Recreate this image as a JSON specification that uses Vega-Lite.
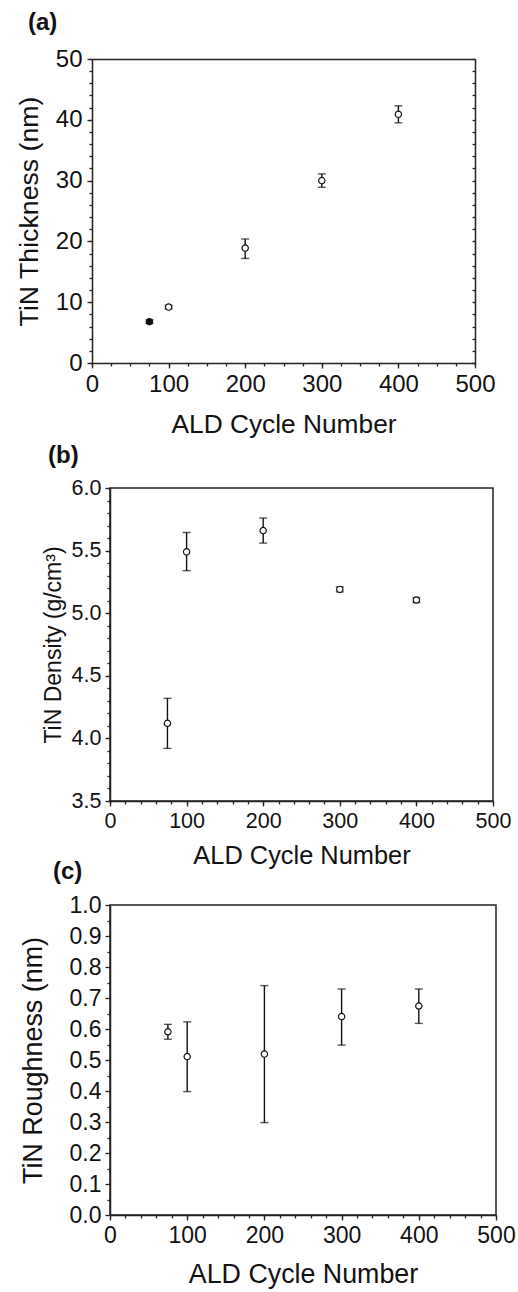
{
  "$schema": "https://vega.github.io/schema/vega-lite/v6.json",
  "padding": {"left": 16, "top": 11, "right": 5, "bottom": 2},
  "background": "white",
  "title": {"text": "(a)", "anchor": "start", "frame": "group", "dx": -82, "offset": 12},
  "spacing": 7,
  "datasets": {
    "thickness": [
      {"cycles": 75, "value": 6.8, "lo": 6.5, "hi": 7.1, "style": "filled"},
      {"cycles": 100, "value": 9.2, "lo": 8.9, "hi": 9.5, "style": "open"},
      {"cycles": 200, "value": 18.9, "lo": 17.2, "hi": 20.4, "style": "open"},
      {"cycles": 300, "value": 30.0, "lo": 28.9, "hi": 31.1, "style": "open"},
      {"cycles": 400, "value": 40.9, "lo": 39.5, "hi": 42.3, "style": "open"}
    ],
    "density": [
      {"cycles": 75, "value": 4.12, "lo": 3.92, "hi": 4.32},
      {"cycles": 100, "value": 5.49, "lo": 5.34, "hi": 5.645},
      {"cycles": 200, "value": 5.66, "lo": 5.56, "hi": 5.76},
      {"cycles": 300, "value": 5.19, "lo": 5.17, "hi": 5.21},
      {"cycles": 400, "value": 5.105, "lo": 5.085, "hi": 5.125}
    ],
    "roughness": [
      {"cycles": 75, "value": 0.591, "lo": 0.567, "hi": 0.615},
      {"cycles": 100, "value": 0.511, "lo": 0.398, "hi": 0.623},
      {"cycles": 200, "value": 0.519, "lo": 0.298, "hi": 0.74},
      {"cycles": 300, "value": 0.64, "lo": 0.548, "hi": 0.729},
      {"cycles": 400, "value": 0.674, "lo": 0.618, "hi": 0.729}
    ]
  },
  "vconcat": [
    {
      "width": 383,
      "height": 304,
      "view": {"stroke": null},
      "data": {"name": "thickness"},
      "title": {"text": "(b)", "orient": "bottom", "anchor": "start", "frame": "group", "dx": -62, "offset": 7},
      "resolve": {"axis": {"x": "independent", "y": "independent"}},
      "layer": [
        {
          "mark": {"type": "errorbar", "ticks": {"size": 8, "thickness": 1.4}, "thickness": 1.4, "color": "#111"},
          "encoding": {
            "x": {"field": "cycles", "type": "quantitative", "scale": {"domain": [0, 500], "range": [-18, 365], "nice": false, "zero": false},
              "axis": {"orient": "bottom", "values": [0, 100, 200, 300, 400, 500], "labelFontSize": 24, "tickSize": 5, "labelPadding": 4, "title": "ALD Cycle Number", "titleFontSize": 26.3, "titleY": 61, "titleBaseline": "middle"}},
            "y": {"field": "lo", "type": "quantitative", "scale": {"domain": [0, 50], "nice": false, "zero": false},
              "axis": {"orient": "left", "offset": 18, "values": [0, 10, 20, 30, 40, 50], "labelFontSize": 24, "tickSize": 5, "labelPadding": 5, "title": "TiN Thickness (nm)", "titleFontSize": 26.7, "titleX": -63, "titleY": 152, "titleAngle": -90, "titleAlign": "center", "titleBaseline": "middle"}},
            "y2": {"field": "hi"}
          }
        },
        {
          "mark": {"type": "point", "shape": "circle", "filled": true, "size": 40, "stroke": "#111", "strokeWidth": 1.2, "opacity": 1},
          "encoding": {
            "x": {"field": "cycles", "type": "quantitative",
              "axis": {"orient": "bottom", "values": [0, 25, 50, 75, 100, 125, 150, 175, 200, 225, 250, 275, 300, 325, 350, 375, 400, 425, 450, 475, 500], "labels": false, "domain": false, "tickSize": 3, "title": null}},
            "y": {"field": "value", "type": "quantitative",
              "axis": {"orient": "left", "offset": 18, "values": [0, 2, 4, 6, 8, 10, 12, 14, 16, 18, 20, 22, 24, 26, 28, 30, 32, 34, 36, 38, 40, 42, 44, 46, 48, 50], "labels": false, "domain": false, "tickSize": 3, "title": null}},
            "fill": {"field": "style", "type": "nominal", "scale": {"domain": ["filled", "open"], "range": ["#111", "white"]}, "legend": null}
          }
        },
        {
          "mark": {"type": "point", "opacity": 0},
          "encoding": {
            "x": {"field": "cycles", "type": "quantitative",
              "axis": {"orient": "top", "labels": false, "ticks": false, "domain": true, "title": null}},
            "y": {"field": "value", "type": "quantitative",
              "axis": {"orient": "right", "offset": -18, "values": [0, 2, 4, 6, 8, 10, 12, 14, 16, 18, 20, 22, 24, 26, 28, 30, 32, 34, 36, 38, 40, 42, 44, 46, 48, 50], "labels": false, "domain": true, "tickSize": -3, "title": null}}
          }
        }
      ]
    },
    {
      "width": 383,
      "height": 313,
      "data": {"name": "density"},
      "title": {"text": "(c)", "orient": "bottom", "anchor": "start", "frame": "group", "dx": -57, "offset": -8},
      "resolve": {"axis": {"x": "independent", "y": "independent"}},
      "layer": [
        {
          "mark": {"type": "errorbar", "ticks": {"size": 8, "thickness": 1.4}, "thickness": 1.4, "color": "#111"},
          "encoding": {
            "x": {"field": "cycles", "type": "quantitative", "scale": {"domain": [0, 500], "nice": false, "zero": false},
              "axis": {"orient": "bottom", "values": [0, 100, 200, 300, 400, 500], "labelFontSize": 21.5, "tickSize": 5, "labelPadding": 4, "title": "ALD Cycle Number", "titleFontSize": 25.4, "titleY": 54, "titleBaseline": "middle"}},
            "y": {"field": "lo", "type": "quantitative", "scale": {"domain": [3.5, 6.0], "nice": false, "zero": false},
              "axis": {"orient": "left", "values": [3.5, 4.0, 4.5, 5.0, 5.5, 6.0], "format": ".1f", "labelFontSize": 21.5, "tickSize": 5, "labelPadding": 4, "title": "TiN Density (g/cm³)", "titleFontSize": 23, "titleX": -57, "titleY": 156.5, "titleAngle": -90, "titleAlign": "center", "titleBaseline": "middle"}},
            "y2": {"field": "hi"}
          }
        },
        {
          "mark": {"type": "point", "shape": "circle", "filled": true, "fill": "white", "size": 40, "stroke": "#111", "strokeWidth": 1.2, "opacity": 1},
          "encoding": {
            "x": {"field": "cycles", "type": "quantitative",
              "axis": {"orient": "bottom", "values": [0, 20, 40, 60, 80, 100, 120, 140, 160, 180, 200, 220, 240, 260, 280, 300, 320, 340, 360, 380, 400, 420, 440, 460, 480, 500], "labels": false, "domain": false, "tickSize": 3, "title": null}},
            "y": {"field": "value", "type": "quantitative",
              "axis": {"orient": "left", "values": [3.5, 3.6, 3.7, 3.8, 3.9, 4.0, 4.1, 4.2, 4.3, 4.4, 4.5, 4.6, 4.7, 4.8, 4.9, 5.0, 5.1, 5.2, 5.3, 5.4, 5.5, 5.6, 5.7, 5.8, 5.9, 6.0], "labels": false, "domain": false, "tickSize": 3, "title": null}}
          }
        }
      ]
    },
    {
      "width": 386,
      "height": 310,
      "data": {"name": "roughness"},
      "resolve": {"axis": {"x": "independent", "y": "independent"}},
      "layer": [
        {
          "mark": {"type": "errorbar", "ticks": {"size": 8, "thickness": 1.4}, "thickness": 1.4, "color": "#111"},
          "encoding": {
            "x": {"field": "cycles", "type": "quantitative", "scale": {"domain": [0, 500], "nice": false, "zero": false},
              "axis": {"orient": "bottom", "values": [0, 100, 200, 300, 400, 500], "labelFontSize": 23, "tickSize": 5, "labelPadding": 4, "title": "ALD Cycle Number", "titleFontSize": 26.8, "titleY": 59, "titleBaseline": "middle"}},
            "y": {"field": "lo", "type": "quantitative", "scale": {"domain": [0, 1], "nice": false, "zero": false},
              "axis": {"orient": "left", "values": [0, 0.1, 0.2, 0.3, 0.4, 0.5, 0.6, 0.7, 0.8, 0.9, 1.0], "format": ".1f", "labelFontSize": 23, "tickSize": 5, "labelPadding": 4, "title": "TiN Roughness (nm)", "titleFontSize": 26.9, "titleX": -77, "titleY": 155, "titleAngle": -90, "titleAlign": "center", "titleBaseline": "middle"}},
            "y2": {"field": "hi"}
          }
        },
        {
          "mark": {"type": "point", "shape": "circle", "filled": true, "fill": "white", "size": 40, "stroke": "#111", "strokeWidth": 1.2, "opacity": 1},
          "encoding": {
            "x": {"field": "cycles", "type": "quantitative",
              "axis": {"orient": "bottom", "values": [0, 20, 40, 60, 80, 100, 120, 140, 160, 180, 200, 220, 240, 260, 280, 300, 320, 340, 360, 380, 400, 420, 440, 460, 480, 500], "labels": false, "domain": false, "tickSize": 3, "title": null}},
            "y": {"field": "value", "type": "quantitative",
              "axis": {"orient": "left", "values": [0.05, 0.15, 0.25, 0.35, 0.45, 0.55, 0.65, 0.75, 0.85, 0.95], "labels": false, "domain": false, "tickSize": 3, "title": null}}
          }
        }
      ]
    }
  ],
  "config": {
    "font": "Liberation Sans",
    "view": {"stroke": "#222", "strokeWidth": 1.5},
    "title": {"font": "Liberation Sans", "fontSize": 24, "fontWeight": "bold", "color": "#111"},
    "axis": {"labelFont": "Liberation Sans", "titleFont": "Liberation Sans", "labelColor": "#111", "titleColor": "#111", "domainColor": "#222", "tickColor": "#222", "domainWidth": 1.5, "tickWidth": 1.3, "grid": false, "labelFlush": false, "labelOverlap": false, "titleFontWeight": "normal"}
  }
}
